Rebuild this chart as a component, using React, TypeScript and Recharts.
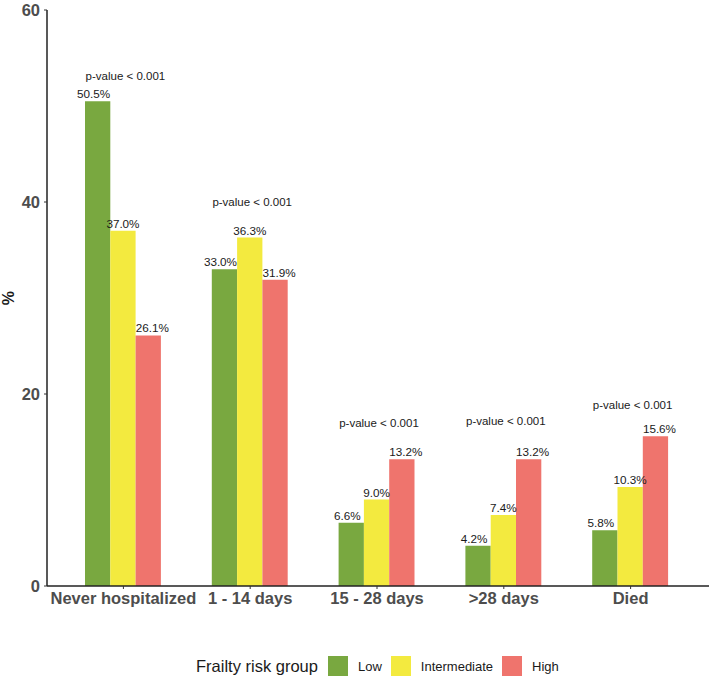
import React from "react";
import {
  ComposedChart,
  Bar,
  Line,
  XAxis,
  YAxis,
  Legend,
  LabelList,
} from "recharts";

const categories = ["Never hospitalized", "1 - 14 days", "15 - 28 days", ">28 days", "Died"];
const low = [50.5, 33.0, 6.6, 4.2, 5.8];
const intermediate = [37.0, 36.3, 9.0, 7.4, 10.3];
const high = [26.1, 31.9, 13.2, 13.2, 15.6];
const pValueLabels = ["p-value < 0.001", "p-value < 0.001", "p-value < 0.001", "p-value < 0.001", "p-value < 0.001"];
const pValueY = [53.1, 40.0, 17.0, 17.2, 18.85];
const yTicks = [0, 20, 40, 60];
const seriesNames = ["Low", "Intermediate", "High"];
const legendTitle = "Frailty risk group";
const yTitle = "%";

const COLORS = ["#79A840", "#F3EA3F", "#EF746D"];
const FONT = "'Liberation Sans', Arial, Helvetica, sans-serif";
const TEXT = "#1a1a1a";

const data = categories.map((c, i) => ({
  category: c,
  low: low[i],
  intermediate: intermediate[i],
  high: high[i],
  pY: pValueY[i],
  pLabel: pValueLabels[i],
}));

const makeValueLabel = (shift: number) => (props: any) => {
  const { x, y, width, value } = props;
  if (value == null) return null;
  return (
    <text
      x={x + width / 2 + shift}
      y={y - 3}
      textAnchor="middle"
      fontFamily={FONT}
      fontSize={11.7}
      fill={TEXT}
    >
      {Number(value).toFixed(1) + "%"}
    </text>
  );
};

const PLabel = (props: any) => {
  const { x, y, value } = props;
  if (value == null) return null;
  return (
    <text
      x={x + 2}
      y={y}
      textAnchor="middle"
      dominantBaseline="central"
      fontFamily={FONT}
      fontSize={11.5}
      fill={TEXT}
    >
      {value}
    </text>
  );
};

const LegendContent = () => (
  <div
    style={{
      height: 20,
      display: "flex",
      alignItems: "center",
      paddingLeft: 196,
      fontFamily: FONT,
      color: TEXT,
      boxSizing: "border-box",
    }}
  >
    <span style={{ fontSize: 16.5, marginRight: 10, whiteSpace: "nowrap" }}>{legendTitle}</span>
    {seriesNames.map((n, i) => (
      <span key={n} style={{ display: "flex", alignItems: "center", marginRight: 9 }}>
        <span
          style={{
            display: "inline-block",
            width: 20,
            height: 20,
            background: COLORS[i],
            marginRight: 10,
          }}
        />
        <span style={{ fontSize: 13, whiteSpace: "nowrap" }}>{n}</span>
      </span>
    ))}
  </div>
);

const YTitle = (props: any) => {
  const vb = props.viewBox || { x: 0, y: 10, width: 47, height: 576 };
  const cx = vb.x + 8.5;
  const cy = vb.y + vb.height / 2;
  return (
    <text
      x={cx}
      y={cy}
      transform={`rotate(-90 ${cx} ${cy})`}
      textAnchor="middle"
      dominantBaseline="central"
      fontFamily={FONT}
      fontSize={16}
      fontWeight="bold"
      fill={TEXT}
    >
      {yTitle}
    </text>
  );
};

export default function App() {
  return (
    <div style={{ position: "absolute", left: 0, top: 0, width: 709, height: 678, background: "#fff" }}>
      <ComposedChart
        width={709}
        height={678}
        data={data}
        margin={{ top: 10, right: 0, left: 0, bottom: 2 }}
        barGap={0}
        barSize={25.3}
      >
        <XAxis
          dataKey="category"
          interval={0}
          padding={{ left: 13, right: 15 }}
          height={70}
          tickSize={3}
          tickMargin={3}
          axisLine={{ stroke: "#222", strokeWidth: 1.5 }}
          tickLine={{ stroke: "#333" }}
          tick={{ fontSize: 16.5, fontWeight: "bold", fill: "#4d4d4d", fontFamily: FONT }}
        />
        <YAxis
          width={47}
          domain={[0, 60]}
          ticks={yTicks}
          tickSize={3}
          tickMargin={4}
          axisLine={{ stroke: "#222", strokeWidth: 1.5 }}
          tickLine={{ stroke: "#333" }}
          tick={{ fontSize: 16.5, fontWeight: "bold", fill: "#4d4d4d", fontFamily: FONT }}
          label={<YTitle />}
        />
        <Legend verticalAlign="bottom" align="left" content={<LegendContent />} />
        <Bar dataKey="low" name={seriesNames[0]} fill={COLORS[0]} isAnimationActive={false}>
          <LabelList dataKey="low" content={makeValueLabel(-4)} />
        </Bar>
        <Bar dataKey="intermediate" name={seriesNames[1]} fill={COLORS[1]} isAnimationActive={false}>
          <LabelList dataKey="intermediate" content={makeValueLabel(0)} />
        </Bar>
        <Bar dataKey="high" name={seriesNames[2]} fill={COLORS[2]} isAnimationActive={false}>
          <LabelList dataKey="high" content={makeValueLabel(4)} />
        </Bar>
        <Line
          dataKey="pY"
          stroke="none"
          dot={false}
          activeDot={false}
          legendType="none"
          isAnimationActive={false}
        >
          <LabelList dataKey="pLabel" content={<PLabel />} />
        </Line>
      </ComposedChart>
    </div>
  );
}
